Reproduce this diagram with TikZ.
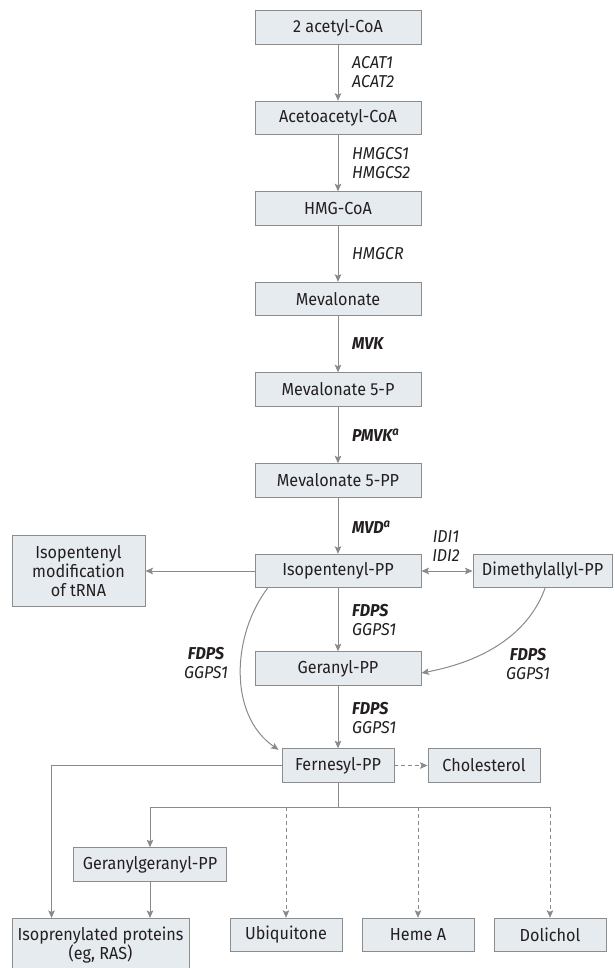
\documentclass[tikz,border=0pt]{standalone}
\usepackage{fontspec}
\setmainfont[FakeStretch=0.93]{Fira Sans}
\usetikzlibrary{arrows.meta,calc}
\definecolor{boxfill}{HTML}{E6EBF0}
\definecolor{boxline}{HTML}{8C8C8C}
\definecolor{arrcol}{HTML}{8A8A8A}
\definecolor{txt}{HTML}{231F20}
\begin{document}
\begin{tikzpicture}[x=1pt,y=-1pt,
  font=\fontsize{17.4}{19}\selectfont, text=txt,
  box/.style={draw=boxline, fill=boxfill, line width=0.9pt, minimum height=33.5pt, inner sep=0pt, anchor=center},
  tip/.tip={Stealth[length=7.5pt,width=6.5pt,inset=1.5pt]},
  conn/.style={draw=arrcol, line width=1pt, -tip},
  plain/.style={draw=arrcol, line width=1pt},
  dconn/.style={conn, dash pattern=on 4pt off 3pt},
  enz/.style={font=\fontsize{17.2}{19}\selectfont\itshape, align=left, anchor=west, inner sep=0pt},
  enzc/.style={font=\fontsize{17.2}{19}\selectfont\itshape, align=center, inner sep=0pt},
  enzb/.style={enz, font=\fontsize{17.2}{19}\selectfont\bfseries\itshape},
]
\useasboundingbox (0,0) rectangle (614,968);
\fill[white] (0,0) rectangle (614,968);

% main column
\node[box, minimum width=166pt] (a1) at (338,27.5) {2 acetyl-CoA};
\node[box, minimum width=166pt] (a2) at (338,118) {Acetoacetyl-CoA};
\node[box, minimum width=166pt] (a3) at (338,208.5) {HMG-CoA};
\node[box, minimum width=166pt] (a4) at (338,299) {Mevalonate};
\node[box, minimum width=166pt] (a5) at (338,389.5) {Mevalonate 5-P};
\node[box, minimum width=166pt] (a6) at (338,480.5) {Mevalonate 5-PP};
\node[box, minimum width=166pt] (ipp) at (338,571) {Isopentenyl-PP};
\node[box, minimum width=166pt] (ger) at (338,668.5) {Geranyl-PP};
\node[box, minimum width=112pt] (fpp) at (338,765.5) {Fernesyl-PP};

% side nodes
\node[box, minimum width=133pt, minimum height=71pt, align=center] (trna) at (78.5,571) {Isopentenyl\\modification\\of tRNA};
\node[box, minimum width=139pt] (dma) at (542.5,571) {Dimethylallyl-PP};
\node[box, minimum width=112pt] (chol) at (484,765.5) {Cholesterol};
\node[box, minimum width=153pt] (gg) at (150,864.5) {Geranylgeranyl-PP};

% bottom row
\node[box, minimum width=177pt, minimum height=60pt, anchor=north] (iso) at (100.5,918) {};
\node[align=center, font=\fontsize{17.4}{17.5}\selectfont, inner sep=0pt] (isot) at (100.5,945) {Isoprenylated proteins\\(eg, RAS)};
\node[box, minimum width=112pt] (ubi) at (286,935) {Ubiquitone};
\node[box, minimum width=112pt] (heme) at (418,935) {Heme A};
\node[box, minimum width=112pt] (doli) at (550,935) {Dolichol};

% enzyme labels
\node[enz] (e1) at (352,72.5) {ACAT1\\ACAT2};
\node[enz] (e2) at (352,163.5) {HMGCS1\\HMGCS2};
\node[enz] (e3) at (352,253.5) {HMGCR};
\node[enzb] (e4) at (352,344) {MVK};
\node[enzb] (e5) at (352,435) {PMVK\textsuperscript{a}};
\node[enzb] (e6) at (352,527) {MVD\textsuperscript{a}};
\node[enz] (e7) at (352,620) {\textbf{FDPS}\\GGPS1};
\node[enz] (e8) at (352,717.5) {\textbf{FDPS}\\GGPS1};
\node[enzc] (e9) at (206,662.5) {\textbf{FDPS}\\GGPS1};
\node[enzc] (e10) at (528,663.5) {\textbf{FDPS}\\GGPS1};
\node[enzc] (e11) at (446,546.5) {IDI1\\IDI2};

% main arrows
\draw[conn] (a1) -- (a2);
\draw[conn] (a2) -- (a3);
\draw[conn] (a3) -- (a4);
\draw[conn] (a4) -- (a5);
\draw[conn] (a5) -- (a6);
\draw[conn] (a6) -- (ipp);
\draw[conn] (ipp) -- (ger);
\draw[conn] (ger) -- (fpp);

% side arrows
\draw[conn] (ipp.west) -- (trna.east);
\draw[conn, tip-tip] (ipp.east) -- (dma.west);
\draw[conn] ($(ipp.south west)+(13,0)$) .. controls (232,635) and (228,715) .. ($(fpp.north west)+(-3,1.5)$);
\draw[conn] ($(dma.south)+(2.5,0)$) .. controls (530,630) and (490,660) .. ($(ger.east)+(0,4.5)$);
\draw[dconn] (fpp.east) -- (chol.west);

% lower branches
\coordinate (iL) at ($(iso.north west)+(40,0)$);
\draw[conn] (fpp.west) -| (iL);
\coordinate (br) at (338,807);
\coordinate (bL) at (150,807);
\coordinate (bR) at (550,807);
\draw[plain] (fpp.south) -- (br);
\draw[plain] (bL) -- (bR);
\draw[conn] (bL) -- (gg.north);
\draw[conn] (gg.south) -- (gg.south |- iso.north);
\draw[dconn] (ubi.north |- br) -- (ubi.north);
\draw[dconn] (heme.north |- br) -- (heme.north);
\draw[dconn] (bR) -- (doli.north);
\end{tikzpicture}
\end{document}
